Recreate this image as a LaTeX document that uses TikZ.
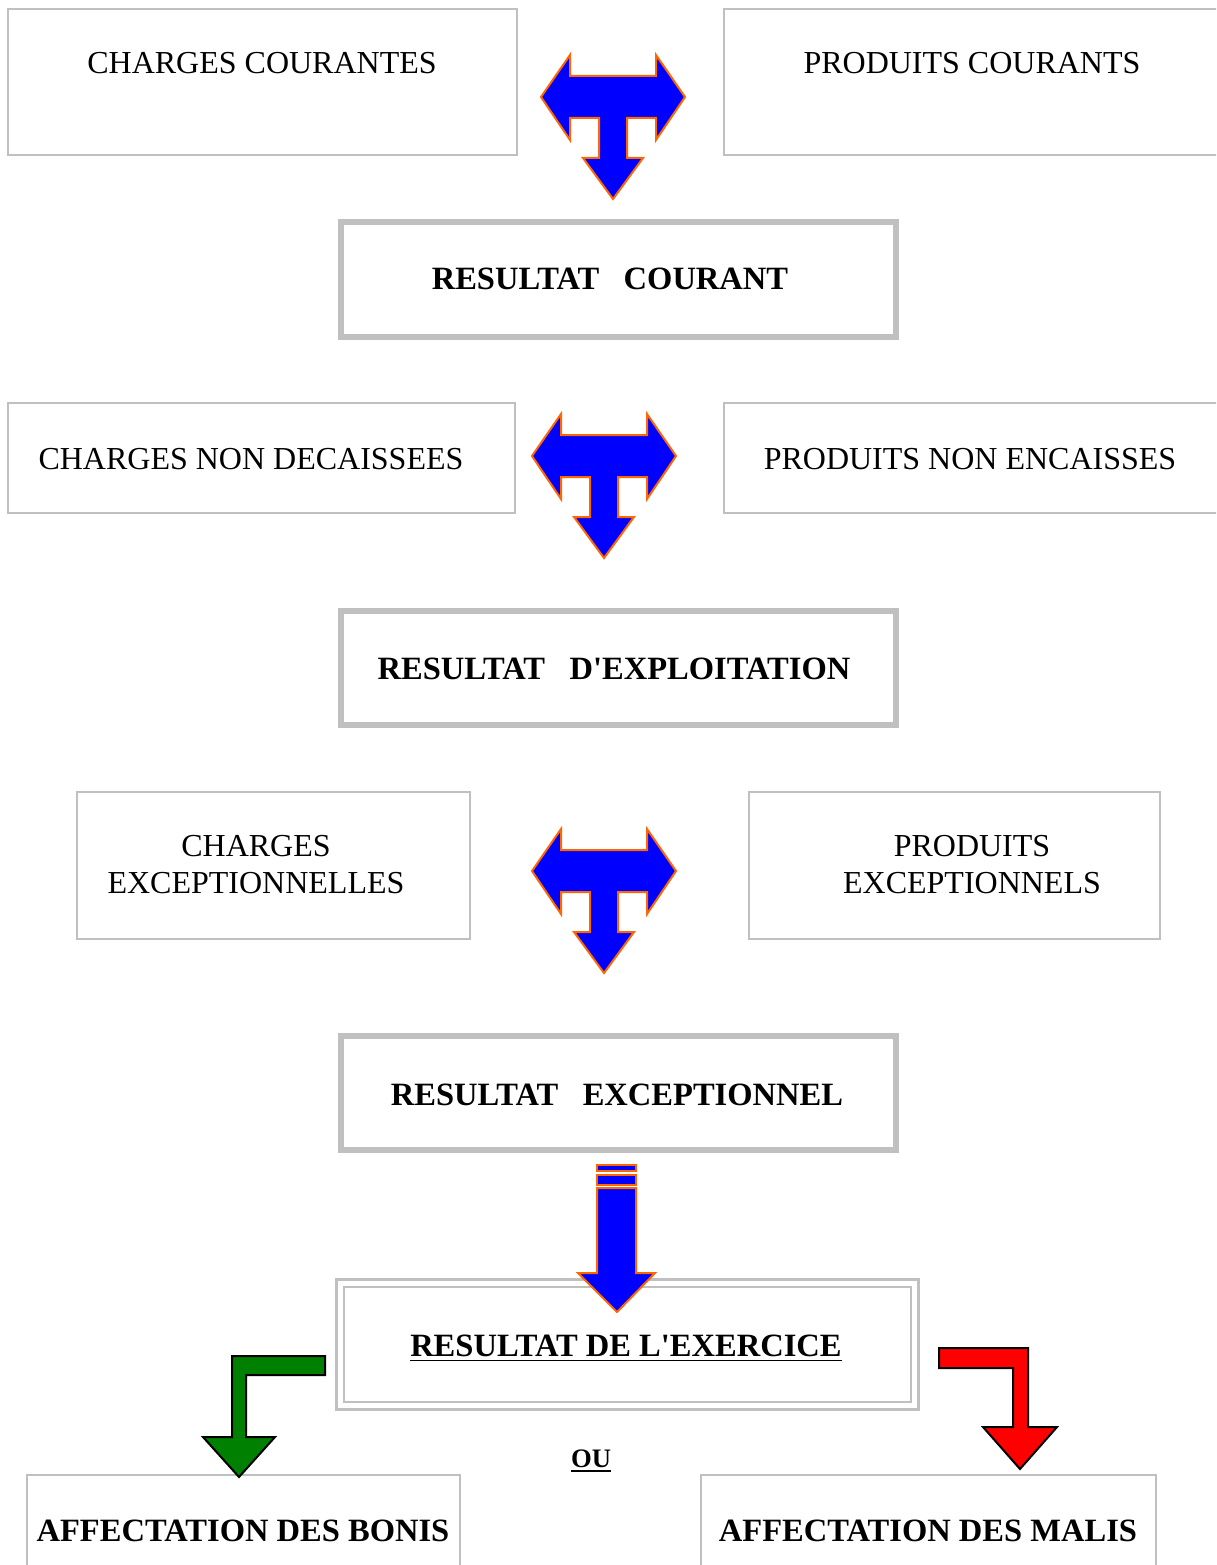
\documentclass[tikz,border=0pt]{standalone}
\usepackage{fontspec}
\newfontfamily\libserif{Liberation Serif}
\definecolor{boxgray}{RGB}{192,192,192}
\definecolor{arrowblue}{RGB}{0,0,255}
\definecolor{arroworange}{RGB}{255,102,0}
\definecolor{bonisgreen}{RGB}{0,128,0}
\definecolor{malisred}{RGB}{255,0,0}
\begin{document}
\begin{tikzpicture}
% 1 unit = 1 pixel of the page = 0.375pt, y runs downwards
[x=0.375pt, y=-0.375pt,
 thinbox/.style={draw=boxgray, line width=0.55pt},
 thickbox/.style={draw=boxgray, line width=2.25pt},
 dblbox/.style={draw=boxgray, line width=1.1pt},
 txt/.style={anchor=base, inner sep=0pt, font=\libserif\fontsize{12}{13.9}\selectfont},
 boldtxt/.style={txt, font=\libserif\fontsize{12.2}{14}\selectfont\bfseries},
 tarrow/.style={fill=arrowblue, draw=arroworange, line width=0.75pt, line join=miter},
 turnarrow/.style={draw=black, line width=0.75pt, line join=miter}]
\clip (0,0) rectangle (1216,1565);
\fill[white] (0,0) rectangle (1216,1565);
% boxes of the three steps
\draw[thinbox] (8,9) rectangle (517,155);
\draw[thinbox] (724,9) rectangle (1230,155);
\draw[thickbox] (341,222) rectangle (896,337);
\draw[thinbox] (8,403) rectangle (515,513);
\draw[thinbox] (724,403) rectangle (1230,513);
\draw[thickbox] (341,611) rectangle (896,725);
\draw[thinbox] (77,792) rectangle (470,939);
\draw[thinbox] (749,792) rectangle (1160,939);
\draw[thickbox] (341,1036) rectangle (896,1150);
\draw[dblbox] (336.5,1279.5) rectangle (918.5,1409.5);
\draw[dblbox] (344,1287) rectangle (911,1402);
\draw[thinbox] (27,1475) rectangle (460,1580);
\draw[thinbox] (701,1475) rectangle (1156,1580);
% texts, placed at their baselines
\node[txt] (chcour) at (262,74) {CHARGES COURANTES};
\node[txt] (prcour) at (972,74) {PRODUITS COURANTS};
\node[boldtxt] (rescour) at (610,290) {RESULTAT~~~COURANT};
\node[txt] (chnondec) at (251,469) {CHARGES NON DECAISSEES};
\node[txt] (prnonenc) at (970,469) {PRODUITS NON ENCAISSES};
\node[boldtxt] (resexpl) at (614,679) {RESULTAT~~~D'EXPLOITATION};
\node[txt, anchor=center, align=center] (chexc) at (256,865) {CHARGES\\EXCEPTIONNELLES};
\node[txt, anchor=center, align=center] (prexc) at (972,865) {PRODUITS\\EXCEPTIONNELS};
\node[boldtxt] (resexc) at (617,1105) {RESULTAT~~~EXCEPTIONNEL};
\node[boldtxt] (resex) at (626,1356) {\underline{RESULTAT DE L'EXERCICE}};
\node[boldtxt, font=\libserif\fontsize{10}{12}\selectfont\bfseries] (ou) at (591,1467) {\underline{OU}};
\node[boldtxt] (bonis) at (243,1541) {AFFECTATION DES BONIS};
\node[boldtxt] (malis) at (928,1541) {AFFECTATION DES MALIS};
% T arrows: \cx = centre, \ty = height of the side tips
\foreach \cx/\ty in {613/97, 604/456, 604/871}{
	\draw[tarrow] ({\cx-72},\ty) coordinate (xy)
		-- ++(29,-42) -- ++(0,21) -- ++(86,0) -- ++(0,-21) -- ++(29,42)
		-- ++(-29,43) -- ++(0,-22) -- ++(-29,0) -- ++(0,40) -- ++(16,0)
		-- ++(-30,41) -- ++(-30,-41) -- ++(16,0) -- ++(0,-40) -- ++(-29,0)
		-- ++(0,22) -- cycle;
	}
% striped arrow down to the result of the year
\draw[tarrow] (597,1165) rectangle (636,1171);
\draw[tarrow] (597,1175) rectangle (636,1185);
\draw[tarrow] (597,1188) -- (636,1188) -- (636,1273) -- (655,1273)
	-- (617,1312) -- (578,1273) -- (597,1273) -- cycle;
% bent arrows
\draw[turnarrow, fill=bonisgreen] (325,1356) -- (232,1356) -- (232,1437) -- (203,1437)
	-- (239,1477) -- (275,1437) -- (246,1437) -- (246,1375) -- (325,1375) -- cycle;
\draw[turnarrow, fill=malisred] (939,1348) -- (1028,1348) -- (1028,1427) -- (1057,1427)
	-- (1020,1469) -- (983,1427) -- (1013,1427) -- (1013,1368) -- (939,1368) -- cycle;
\end{tikzpicture}
\end{document}
